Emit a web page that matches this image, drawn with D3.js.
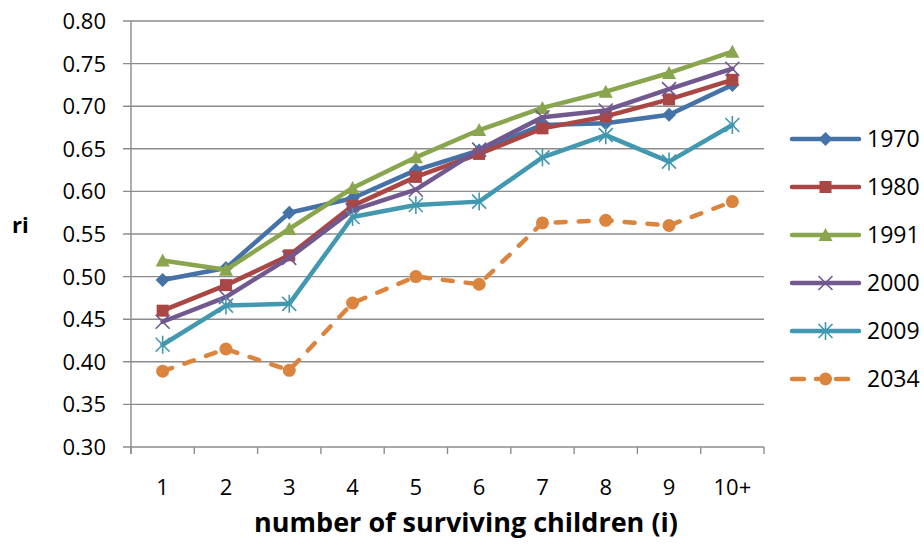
<!DOCTYPE html>
<html><head><meta charset="utf-8">
<script src="https://cdn.jsdelivr.net/npm/d3@7"></script>
<style>
html,body{margin:0;padding:0;background:#fff;}
svg{display:block;font-family:"Open Sans","Liberation Sans",sans-serif;}
</style></head>
<body>
<svg id="chart" width="924" height="546"></svg>
<script>
const categories = ["1","2","3","4","5","6","7","8","9","10+"];
const yTicks = [0.30,0.35,0.40,0.45,0.50,0.55,0.60,0.65,0.70,0.75,0.80];
const seriesNames = ["1970","1980","1991","2000","2009","2034"];
const v1970 = [0.496,0.510,0.575,0.592,0.625,0.648,0.678,0.680,0.690,0.725];
const v1980 = [0.460,0.490,0.525,0.583,0.617,0.644,0.674,0.688,0.708,0.731];
const v1991 = [0.519,0.508,0.556,0.604,0.640,0.672,0.698,0.717,0.739,0.764];
const v2000 = [0.447,0.476,0.522,0.578,0.602,0.649,0.687,0.695,0.720,0.744];
const v2009 = [0.420,0.466,0.468,0.570,0.584,0.588,0.640,0.666,0.635,0.678];
const v2034 = [0.389,0.415,0.390,0.469,0.500,0.491,0.563,0.566,0.560,0.588];
const seriesValues = [v1970,v1980,v1991,v2000,v2009,v2034];
const colors = ["#4572A7","#AA4643","#89A54E","#71588F","#4198AF","#DB843D"];
const markers = ["diamond","square","triangle","x","asterisk","circle"];
const dashed = [false,false,false,false,false,true];

(function(){
const svg = d3.select("#chart");
const pL = 131, pR = 764, pT = 21, pB = 447;
const x = d3.scaleBand().domain(categories).range([pL,pR]);
const y = d3.scaleLinear().domain([0.30,0.80]).range([pB,pT]);
const grid = "#8c8c8c";

svg.append("g").selectAll("line").data(yTicks).join("line")
  .attr("x1", pL-8).attr("x2", pR)
  .attr("y1", d=>y(d)).attr("y2", d=>y(d))
  .attr("stroke", grid).attr("stroke-width", 1.4);
svg.append("line").attr("x1",pL).attr("x2",pL).attr("y1",pT).attr("y2",pB+7)
  .attr("stroke",grid).attr("stroke-width",1.4);
const bounds = categories.map(c=>x(c)).concat([pR]);
svg.append("g").selectAll("line").data(bounds).join("line")
  .attr("x1",d=>d).attr("x2",d=>d).attr("y1",pB).attr("y2",pB+7)
  .attr("stroke",grid).attr("stroke-width",1.4);
svg.append("g").selectAll("text").data(yTicks).join("text")
  .attr("x", 106).attr("y", d=>y(d)).attr("dy","0.36em")
  .attr("text-anchor","end").attr("font-size",22).attr("fill","#000")
  .text(d=>d.toFixed(2));
svg.append("g").selectAll("text").data(categories).join("text")
  .attr("x", d=>x(d)+x.bandwidth()/2).attr("y", 495)
  .attr("text-anchor","middle").attr("font-size",22).attr("fill","#000")
  .text(d=>d);
svg.append("text").attr("x",466).attr("y",532).attr("text-anchor","middle")
  .attr("font-size",27).attr("font-weight","bold").text("number of surviving children (i)");
svg.append("text").attr("x",12).attr("y",233)
  .attr("font-size",22).attr("font-weight","bold").text("ri");

function drawMarker(g, type, cx, cy, color){
  if(type==="diamond"){
    g.append("path").attr("d",`M${cx},${cy-7}L${cx+7},${cy}L${cx},${cy+7}L${cx-7},${cy}Z`).attr("fill",color);
  } else if(type==="square"){
    g.append("rect").attr("x",cx-6).attr("y",cy-6).attr("width",12).attr("height",12).attr("fill",color);
  } else if(type==="triangle"){
    g.append("path").attr("d",`M${cx},${cy-7}L${cx+7},${cy+6}L${cx-7},${cy+6}Z`).attr("fill",color);
  } else if(type==="x"){
    g.append("path").attr("d",`M${cx-7},${cy-7}L${cx+7},${cy+7}M${cx-7},${cy+7}L${cx+7},${cy-7}`)
      .attr("stroke",color).attr("stroke-width",1.6).attr("fill","none");
  } else if(type==="asterisk"){
    g.append("path").attr("d",`M${cx-7},${cy-7}L${cx+7},${cy+7}M${cx-7},${cy+7}L${cx+7},${cy-7}M${cx},${cy-9}L${cx},${cy+9}`)
      .attr("stroke",color).attr("stroke-width",1.6).attr("fill","none");
  } else if(type==="circle"){
    g.append("circle").attr("cx",cx).attr("cy",cy).attr("r",6.5).attr("fill",color);
  }
}

const line = d3.line().x((d,i)=>x(categories[i])+x.bandwidth()/2).y(d=>y(d));
seriesValues.forEach((vals,si)=>{
  const g = svg.append("g");
  g.append("path").attr("d", line(vals)).attr("fill","none")
    .attr("stroke",colors[si]).attr("stroke-width",4.5)
    .attr("stroke-linejoin","round").attr("stroke-linecap","round")
    .attr("stroke-dasharray", dashed[si] ? "10,13" : null);
  vals.forEach((v,i)=>drawMarker(g, markers[si], x(categories[i])+x.bandwidth()/2, y(v), colors[si]));
});

const legY = [139,187,235,283,331,379];
seriesNames.forEach((name,si)=>{
  const g = svg.append("g");
  const ly = legY[si];
  if(dashed[si]){
    [[792,804],[816,818],[836,848]].forEach(s=>{
      g.append("line").attr("x1",s[0]).attr("x2",s[1]).attr("y1",ly).attr("y2",ly)
        .attr("stroke",colors[si]).attr("stroke-width",4.5).attr("stroke-linecap","round");
    });
  } else {
    g.append("line").attr("x1",792).attr("x2",859).attr("y1",ly).attr("y2",ly)
      .attr("stroke",colors[si]).attr("stroke-width",4.5).attr("stroke-linecap","round");
  }
  drawMarker(g, markers[si], 825.5, ly, colors[si]);
  g.append("text").attr("x",867).attr("y",ly).attr("dy","0.36em")
    .attr("font-size",23).attr("fill","#000").text(name);
});
})();
</script>
</body></html>
